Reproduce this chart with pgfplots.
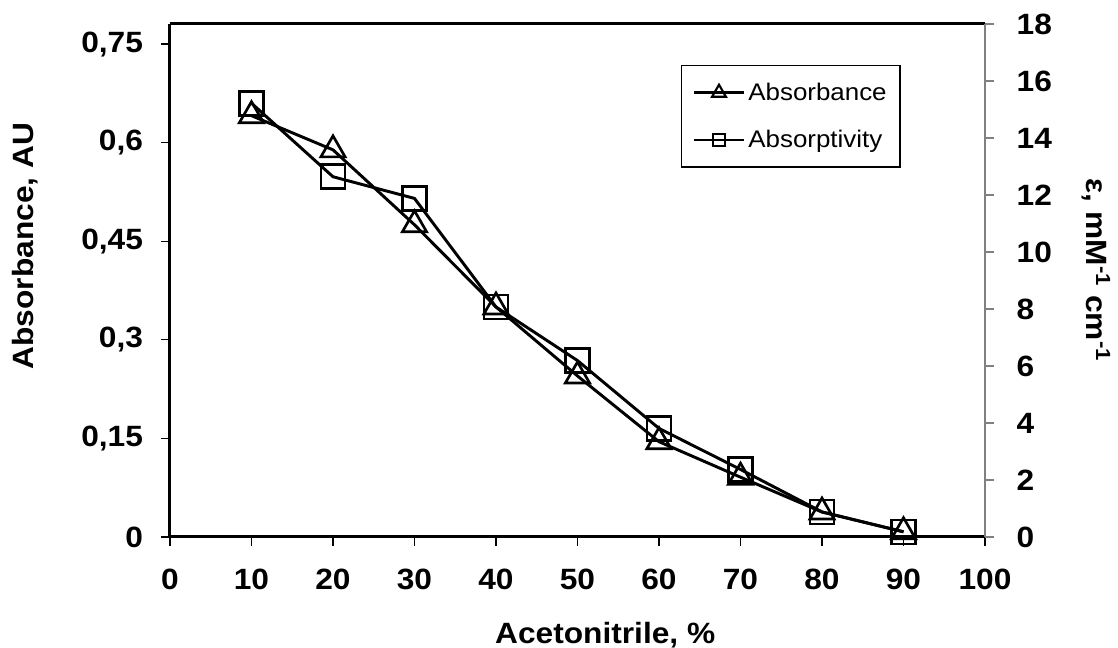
\documentclass[border=0pt]{standalone}
\usepackage{fontspec}
\setmainfont{Liberation Sans}[FakeStretch=1.08]
\usepackage{pgfplots}
\pgfplotsset{compat=1.18}
\definecolor{axgray}{RGB}{128,128,128}

\begin{document}
\begin{tikzpicture}
\pgfplotsset{
  common/.style={
    scale only axis, width=611.25pt, height=384.75pt,
    at={(0,0)}, anchor=south west,
    xmin=0, xmax=100, clip=false,
    tick align=outside, major tick length=6.75pt,
    ticklabel style={font=\fontsize{22}{26}\selectfont\bfseries},
    /pgf/number format/assume math mode=true,
    label style={font=\fontsize{22}{26}\selectfont\bfseries},
    legend image code/.code={\draw[mark repeat=2,mark phase=2,##1] plot coordinates {(0pt,0pt)(19pt,0pt)(38pt,0pt)};},
  },
}
% left axis: absorbance
\begin{axis}[common,
  axis x line*=box, axis y line*=left,
  xtick pos=lower, ytick pos=left,
  axis line style={black, line width=2.25pt},
  tick style={black, line width=1pt},
  xtick={0,10,...,100},
  xticklabel style={yshift=-14pt},
  ymin=0, ymax=0.7805,
  ytick={0,0.15,0.3,0.45,0.6,0.75},
  yticklabels={0,{0,15},{0,3},{0,45},{0,6},{0,75}},
  yticklabel style={xshift=-10pt},
  xlabel={Acetonitrile, \%},
  ylabel={Absorbance, AU},
  xlabel style={at={(axis description cs:0.534,-0.207)}, anchor=base},
  ylabel style={at={(axis description cs:-0.178,0.567)}, anchor=center},
]
\addplot[black, line width=2.2pt, mark=triangle, mark size=10.5pt,
  mark options={fill=none, line width=2pt, solid}] coordinates {
  (10,0.641) (20,0.589) (30,0.475) (40,0.350) (50,0.245)
  (60,0.145) (70,0.091) (80,0.038) (90,0.008)};
\end{axis}
% right axis: absorptivity
\begin{axis}[common,
  axis x line=none, axis y line*=right,
  ymin=0, ymax=18, ytick={0,2,...,18},
  yticklabel style={xshift=13.5pt},
  y axis line style={axgray, line width=1.5pt},
  ytick style={axgray, line width=1pt},
  ylabel={ε, mM\textsuperscript{-1} cm\textsuperscript{-1}},
  ylabel style={at={(axis description cs:1.136,0.52)}, anchor=center, rotate=180},
  legend cell align=left,
  legend style={at={(axis description cs:0.627,0.92)}, anchor=north west,
    draw=black, line width=1pt, inner xsep=8pt, inner ysep=11pt, row sep=17pt,
    font=\fontsize{18}{21}\selectfont\mdseries},
]
\addlegendimage{black, line width=2pt, mark=triangle, mark size=6pt, mark options={fill=none, line width=1.6pt, solid}}
\addlegendentry{Absorbance}
\addlegendimage{black, line width=2pt, mark=square, mark size=4.5pt, mark options={fill=none, line width=1.6pt, solid}}
\addlegendentry{Absorptivity}
\addplot[black, line width=2.2pt, mark=square, mark size=9pt, forget plot,
  mark options={fill=none, line width=2pt, solid}] coordinates {
  (10,15.22) (20,12.64) (30,11.88) (40,8.07) (50,6.19)
  (60,3.81) (70,2.37) (80,0.88) (90,0.18)};
\end{axis}
\pgfresetboundingbox
\path[use as bounding box] (-127.5pt,-83.25pt) rectangle (711pt,402.75pt);
\end{tikzpicture}
\end{document}
